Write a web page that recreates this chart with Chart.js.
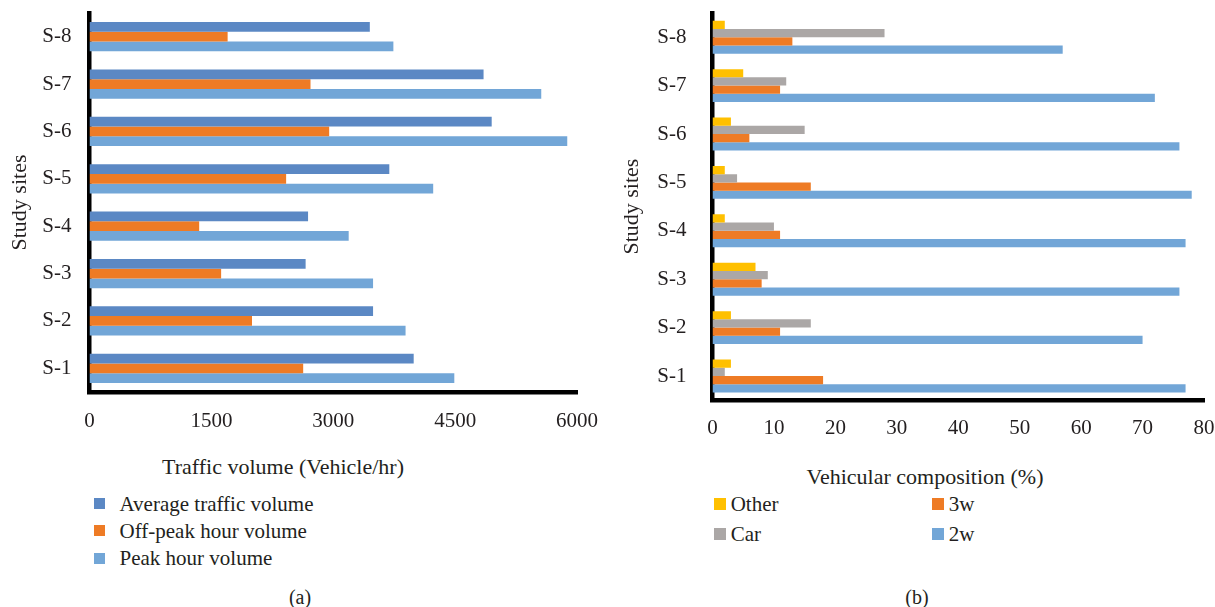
<!DOCTYPE html>
<html lang="en">
<head>
<meta charset="UTF-8">
<title>Traffic volume and vehicular composition</title>
<style>
  body { margin: 0; width: 1215px; height: 607px; position: relative; overflow: hidden; background: #fff;
         font-family: 'Liberation Serif', serif; color: #231f20; }
  canvas { position: absolute; top: 0; }
  .txt { position: absolute; white-space: nowrap; font-size: 22px; transform: translate(-50%, -50%); }
  .lg { position: absolute; white-space: nowrap; font-size: 21px; line-height: 24px; transform: translateY(-50%); }
  .sw { position: absolute; }
</style>
</head>
<body>
<canvas id="volChart" width="600" height="445" style="left:0"></canvas>
<canvas id="mixChart" width="615" height="455" style="left:600px"></canvas>

<div class="txt" style="left:283px; top:467px">Traffic volume (Vehicle/hr)</div>
<div class="txt" style="left:925px; top:477px">Vehicular composition (%)</div>
<div class="txt" style="left:300px; top:597px; font-size:20px">(a)</div>
<div class="txt" style="left:917px; top:597px; font-size:20px">(b)</div>

<script src="https://cdn.jsdelivr.net/npm/chart.js"></script>
<script>
// study sites (bottom to top)
const sites = ['S-1', 'S-2', 'S-3', 'S-4', 'S-5', 'S-6', 'S-7', 'S-8'];

// (a) traffic volume, vehicle/hr
const avgVolume     = [3990, 3490, 2660, 2690, 3690, 4950, 4850, 3450];
const offPeakVolume = [2630, 2000, 1620, 1350, 2420, 2950, 2720, 1700];
const peakVolume    = [4490, 3890, 3490, 3190, 4230, 5880, 5560, 3740];
const volumeTicks   = [0, 1500, 3000, 4500, 6000];

// (b) vehicular composition, %
const otherShare  = [3, 3, 7, 2, 2, 3, 5, 2];
const carShare    = [2, 16, 9, 10, 4, 15, 12, 28];
const threeWShare = [18, 11, 8, 11, 16, 6, 11, 13];
const twoWShare   = [77, 70, 76, 77, 78, 76, 72, 57];
const shareTicks  = [0, 10, 20, 30, 40, 50, 60, 70, 80];

const textColor = '#231f20';
Chart.defaults.font.family = "'Liberation Serif', serif";
Chart.defaults.color = textColor;

function axes(ticks, o) {
    return {
        x: {
            min: ticks[0], max: ticks[ticks.length - 1],
            ticks: { stepSize: ticks[1] - ticks[0], padding: o.xPad, font: { size: 21 }, callback: v => String(v) },
            grid: { display: false, drawTicks: false },
            border: { color: '#000', width: 4.5 },
            afterFit: s => { s.height = o.xHeight; s.paddingLeft = 0; s.paddingRight = 0; }
        },
        y: {
            reverse: true,
            ticks: { padding: o.yPad, font: { size: 21 } },
            grid: { display: false, drawTicks: false },
            border: { color: '#000', width: 4.5 },
            title: { display: true, text: 'Study sites', font: { size: 22 }, padding: { top: o.titlePad, bottom: 0 } },
            afterFit: s => { s.width = o.yWidth; s.paddingTop = 0; s.paddingBottom = 0; }
        }
    };
}

// datasets in top-to-bottom order inside each group
const volSeries = [
    { label: 'Average traffic volume', data: avgVolume, color: '#5b88c4' },
    { label: 'Off-peak hour volume', data: offPeakVolume, color: '#ee7b25' },
    { label: 'Peak hour volume', data: peakVolume, color: '#72a6d7' }
];
const mixSeries = [
    { label: 'Other', data: otherShare, color: '#ffc000' },
    { label: 'Car', data: carShare, color: '#aba7a6' },
    { label: '3w', data: threeWShare, color: '#ee7b25' },
    { label: '2w', data: twoWShare, color: '#72a6d7' }
];

function toDatasets(series, catPct) {
    return series.map(s => ({
        label: s.label, data: s.data, backgroundColor: s.color,
        categoryPercentage: catPct, barPercentage: 1, borderWidth: 0
    }));
}

new Chart(document.getElementById('volChart'), {
    type: 'bar',
    data: { labels: sites, datasets: toDatasets(volSeries, 0.62) },
    options: {
        indexAxis: 'y', responsive: false, animation: false,
        layout: { padding: { top: 13, right: 23, left: 0, bottom: 0 } },
        plugins: { legend: { display: false }, tooltip: { enabled: false } },
        scales: axes(volumeTicks, { xPad: 17.1, xHeight: 53, yPad: 18, yWidth: 89.5, titlePad: 6.8 })
    }
});

new Chart(document.getElementById('mixChart'), {
    type: 'bar',
    data: { labels: sites, datasets: toDatasets(mixSeries, 0.68) },
    options: {
        indexAxis: 'y', responsive: false, animation: false,
        layout: { padding: { top: 13, right: 11, left: 0, bottom: 0 } },
        plugins: { legend: { display: false }, tooltip: { enabled: false } },
        scales: axes(shareTicks, { xPad: 15.7, xHeight: 54.8, yPad: 26, yWidth: 112.5, titlePad: 18.8 })
    }
});

// legends as plain text blocks
function legendItem(label, color, x, y, size, gap) {
    const sw = document.createElement('div');
    sw.className = 'sw';
    sw.style.cssText = `left:${x}px; top:${y - size / 2}px; width:${size}px; height:${size}px; background:${color}`;
    document.body.appendChild(sw);
    const d = document.createElement('div');
    d.className = 'lg';
    d.style.left = (x + gap) + 'px';
    d.style.top = y + 'px';
    d.textContent = label;
    document.body.appendChild(d);
}
volSeries.forEach((s, i) => legendItem(s.label, s.color, 94, [503.5, 530.5, 558][i], 11, 25.5));

const mixLegend = [
    { s: mixSeries[0], x: 714, y: 503.5 }, { s: mixSeries[2], x: 932, y: 503.5 },
    { s: mixSeries[1], x: 714, y: 534 },   { s: mixSeries[3], x: 932, y: 534 }
];
mixLegend.forEach(m => legendItem(m.s.label, m.s.color, m.x, m.y, 12, 16.7));
</script>
</body>
</html>
